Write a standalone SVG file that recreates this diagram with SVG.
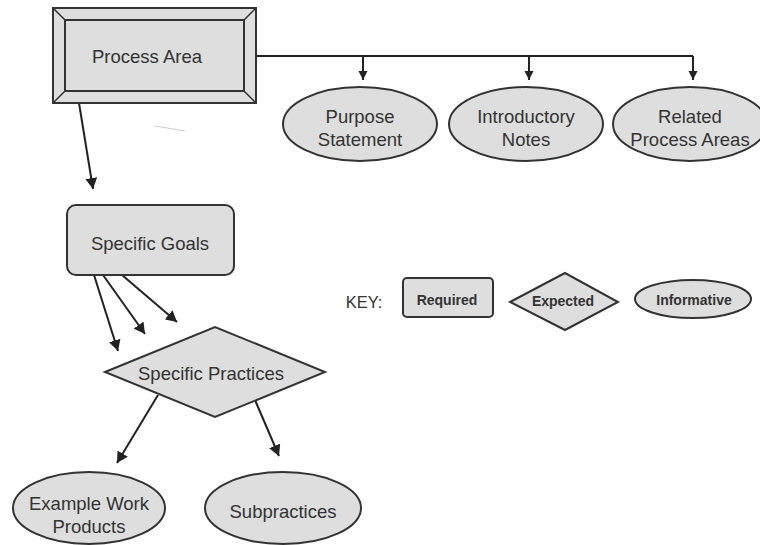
<svg xmlns="http://www.w3.org/2000/svg" width="760" height="545" viewBox="0 0 760 545">
<defs>
<style>
.n{fill:#dedede;stroke:#333;stroke-width:2}
.t{font-family:"Liberation Sans",Arial,sans-serif;font-size:18.5px;fill:#333;text-anchor:middle}
.k{font-family:"Liberation Sans",Arial,sans-serif;font-size:14px;font-weight:bold;fill:#333;text-anchor:middle}
.c{fill:none;stroke:#222;stroke-width:2}
</style>
<marker id="a" markerUnits="userSpaceOnUse" markerWidth="12" markerHeight="12" refX="11" refY="6" orient="auto">
<path d="M0,0 L11,6 L0,12 z" fill="#222"/>
</marker>
<marker id="s" markerUnits="userSpaceOnUse" markerWidth="10" markerHeight="10" refX="9" refY="4.5" orient="auto">
<path d="M0,0 L9,4.5 L0,9 z" fill="#222"/>
</marker>
</defs>
<rect width="760" height="545" fill="#fff"/>
<g id="connectors">
<path class="c" d="M256,56 H693"/>
<path class="c" d="M363,56 V80" marker-end="url(#s)"/>
<path class="c" d="M529,56 V80" marker-end="url(#s)"/>
<path class="c" d="M693,56 V80" marker-end="url(#s)"/>
<path class="c" d="M79,103 L93,189" marker-end="url(#a)"/>
<path class="c" d="M94,275 L118,351" marker-end="url(#a)"/>
<path class="c" d="M103,275 L145,334" marker-end="url(#a)"/>
<path class="c" d="M122,275 L177,322" marker-end="url(#a)"/>
<path class="c" d="M158,395 L117,463" marker-end="url(#a)"/>
<path class="c" d="M255,400 L279,456" marker-end="url(#a)"/>
<path d="M155,126 L185,131" stroke="#ccc" stroke-width="1" fill="none"/>
</g>
<g id="process-area">
<rect class="n" x="53" y="8" width="203" height="95"/>
<rect class="n" x="65" y="20" width="179" height="71"/>
<path d="M53,8 L65,20 M256,8 L244,20 M53,103 L65,91 M256,103 L244,91" stroke="#333" stroke-width="1.5"/>
<text class="t" x="147" y="63">Process Area</text>
</g>
<g id="purpose-statement">
<ellipse class="n" cx="360" cy="124" rx="77" ry="37"/>
<text class="t" x="360" y="123">Purpose</text>
<text class="t" x="360" y="146">Statement</text>
</g>
<g id="introductory-notes">
<ellipse class="n" cx="526" cy="124" rx="77" ry="37"/>
<text class="t" x="526" y="123">Introductory</text>
<text class="t" x="526" y="146">Notes</text>
</g>
<g id="related-process-areas">
<ellipse class="n" cx="690" cy="124" rx="77" ry="37"/>
<text class="t" x="690" y="123">Related</text>
<text class="t" x="690" y="146">Process Areas</text>
</g>
<g id="specific-goals">
<rect class="n" x="67" y="205" width="167" height="70" rx="9"/>
<text class="t" x="150" y="250">Specific Goals</text>
</g>
<g id="specific-practices">
<polygon class="n" points="105,372 215,327 325,372 215,417"/>
<text class="t" x="211" y="380">Specific Practices</text>
</g>
<g id="example-work-products">
<ellipse class="n" cx="89" cy="508" rx="76" ry="36"/>
<text class="t" x="89" y="510">Example Work</text>
<text class="t" x="89" y="533">Products</text>
</g>
<g id="subpractices">
<ellipse class="n" cx="283" cy="508" rx="78" ry="36"/>
<text class="t" x="283" y="518">Subpractices</text>
</g>
<g id="key">
<text x="364" y="308" font-family="Liberation Sans, Arial, sans-serif" font-size="16.5" fill="#333" text-anchor="middle">KEY:</text>
<rect class="n" x="403" y="278" width="90" height="39" rx="4"/>
<text class="k" x="447" y="305">Required</text>
<polygon class="n" points="510,302 565,273 618,302 565,330"/>
<text class="k" x="563" y="306">Expected</text>
<ellipse class="n" cx="693" cy="299" rx="58" ry="19"/>
<text class="k" x="694" y="305">Informative</text>
</g>
</svg>
